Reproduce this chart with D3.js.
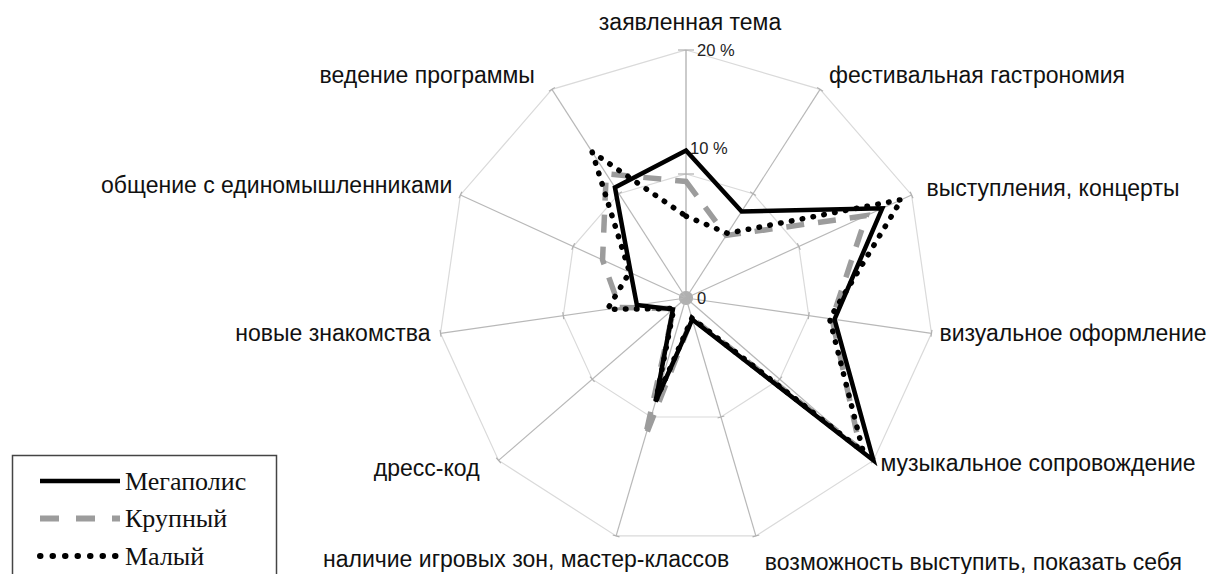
<!DOCTYPE html>
<html>
<head>
<meta charset="utf-8">
<script src="https://cdn.jsdelivr.net/npm/d3@7"></script>
<style>
  html, body { margin: 0; padding: 0; background: #fff; }
  svg { display: block; }
</style>
</head>
<body>
<div id="chart"></div>
<script>
// categories, clockwise from the top
const categories = [
  "заявленная тема",
  "фестивальная гастрономия",
  "выступления, концерты",
  "визуальное оформление",
  "музыкальное сопровождение",
  "возможность выступить, показать себя",
  "наличие игровых зон, мастер-классов",
  "дресс-код",
  "новые знакомства",
  "общение с единомышленниками",
  "ведение программы"
];

const seriesNames = ["Мегаполис", "Крупный", "Малый"];

// values, %
const megapolis = [11.9, 8.3, 17.4, 12.1, 20.0, 1.8, 8.7, 1.4, 4.0, 4.9, 10.6];
const krupny    = [9.4, 6.0, 16.0, 11.9, 18.6, 1.7, 11.7, 1.3, 5.4, 7.4, 11.9];
const maly      = [6.6, 6.2, 19.1, 11.7, 18.9, 1.7, 8.6, 1.3, 6.4, 5.0, 14.0];

const gridValues = [0, 10, 20];
const tickLabels = ["0", "10 %", "20 %"];

/////////////////////////////
let width = 1209, height = 574;
let cx = 686, cy = 298;
let outerR = 248;

let svg = d3.select("#chart").append("svg")
  .attr("width", width)
  .attr("height", height);

let r = d3.scaleLinear().domain([0, 20]).range([0, outerR]);
let angle = d3.scaleLinear().domain([0, categories.length]).range([0, 2 * Math.PI]);

const pt = (i, v) => {
  let a = angle(i);
  return [cx + r(v) * Math.sin(a), cy - r(v) * Math.cos(a)];
};

let grid = svg.append("g");

// rings (polygons) at 10 and 20
gridValues.filter(v => v > 0).forEach(v => {
  let pts = categories.map((c, i) => pt(i, v));
  grid.append("polygon")
    .attr("points", pts.map(p => p.join(",")).join(" "))
    .attr("fill", "none")
    .attr("stroke", "#dadada")
    .attr("stroke-width", 1.2);
});

// spokes
categories.forEach((c, i) => {
  let [x2, y2] = pt(i, 20);
  grid.append("line")
    .attr("x1", cx).attr("y1", cy)
    .attr("x2", x2).attr("y2", y2)
    .attr("stroke", i == 0 ? "#a8a8a8" : "#b8b8b8")
    .attr("stroke-width", 1.2);

  // little tick marks across the spoke
  gridValues.forEach(v => {
    let [px, py] = pt(i, v);
    let a = angle(i);
    let half = v == 0 ? 7 : (i == 0 ? 8 : 3.5);
    grid.append("line")
      .attr("x1", px - half * Math.cos(a)).attr("y1", py - half * Math.sin(a))
      .attr("x2", px + half * Math.cos(a)).attr("y2", py + half * Math.sin(a))
      .attr("stroke", "#b0b0b0")
      .attr("stroke-width", v == 0 ? 2.2 : 1.2);
  });
});

// value axis labels
let labelY = [298, 148, 50];
gridValues.forEach((v, k) => {
  svg.append("text")
    .attr("x", cx + (v == 10 ? 4 : 11))
    .attr("y", v == 10 ? labelY[1] : pt(0, v)[1])
    .attr("dominant-baseline", "central")
    .style("font-family", "Liberation Sans, Arial, sans-serif")
    .style("font-size", "16.5px")
    .attr("fill", "#222")
    .text(tickLabels[k]);
});

// category labels: offset from the spoke end, and anchor
const labelOffsets = [
  [4, -28, "middle"],
  [9, -14, "start"],
  [15, -7, "start"],
  [8, 0, "start"],
  [7, 3, "start"],
  [9, 26, "start"],
  [-90, 23, "middle"],
  [-19, 8, "end"],
  [-10, 0, "end"],
  [-8, -10, "end"],
  [-17, -14, "end"]
];

categories.forEach((c, i) => {
  let [x, y] = pt(i, 20);
  let o = labelOffsets[i];
  svg.append("text")
    .attr("x", x + o[0])
    .attr("y", y + o[1])
    .attr("text-anchor", o[2])
    .attr("dominant-baseline", "central")
    .style("font-family", "Liberation Sans, Arial, sans-serif")
    .style("font-size", "23px")
    .attr("fill", "#111")
    .text(c);
});

// series
const styles = [
  { stroke: "#000", width: 4.5, dash: null, cap: "butt" },
  { stroke: "#9c9c9c", width: 5.5, dash: "18 14", cap: "butt" },
  { stroke: "#000", width: 5.5, dash: "0.5 10.5", cap: "round" }
];
const allSeries = [megapolis, krupny, maly];

let line = d3.lineRadial()
  .angle((d, i) => angle(i))
  .radius(d => r(d))
  .curve(d3.curveLinearClosed);

let plot = svg.append("g").attr("transform", `translate(${cx},${cy})`);

[1, 0, 2].forEach(k => {
  let s = styles[k];
  plot.append("path")
    .datum(allSeries[k])
    .attr("d", line)
    .attr("fill", "none")
    .attr("stroke", s.stroke)
    .attr("stroke-width", s.width)
    .attr("stroke-dasharray", s.dash)
    .attr("stroke-linecap", s.cap)
    .attr("stroke-linejoin", "miter");
});

// legend
let legend = svg.append("g");
legend.append("rect")
  .attr("x", 12.5).attr("y", 455.5)
  .attr("width", 264).attr("height", 140)
  .attr("fill", "#fff")
  .attr("stroke", "#444")
  .attr("stroke-width", 1.5);

let legY = d3.scalePoint().domain(seriesNames).range([481, 556]);

seriesNames.forEach((n, k) => {
  let s = styles[k];
  let y = legY(n);
  legend.append("line")
    .attr("x1", 40).attr("x2", 120)
    .attr("y1", y).attr("y2", y)
    .attr("stroke", s.stroke)
    .attr("stroke-width", k == 0 ? 4.5 : 6)
    .attr("stroke-dasharray", k == 1 ? "19 17" : (k == 2 ? "0.5 12" : null))
    .attr("stroke-linecap", s.cap);
  legend.append("text")
    .attr("x", 125).attr("y", y)
    .attr("dominant-baseline", "central")
    .style("font-family", "Liberation Serif, Times New Roman, serif")
    .style("font-size", "26px")
    .attr("fill", "#111")
    .text(n);
});
</script>
</body>
</html>
